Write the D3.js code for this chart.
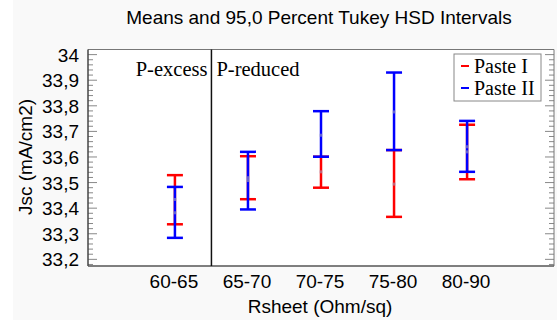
<!DOCTYPE html>
<html>
<head>
<meta charset="utf-8">
<script src="https://cdn.jsdelivr.net/npm/d3@7"></script>
<style>
  body { margin: 0; background: #fff; }
  svg { display: block; }
</style>
</head>
<body>
<svg id="chart" width="557" height="320"></svg>
<script>
let categories = ["60-65", "65-70", "70-75", "75-80", "80-90"];
let paste1Low  = [33.337, 33.435, 33.480, 33.366, 33.513];
let paste1High = [33.529, 33.603, 33.601, 33.627, 33.726];
let paste1Mean = [33.434, 33.519, 33.542, 33.494, 33.620];
let paste2Low  = [33.284, 33.395, 33.601, 33.627, 33.542];
let paste2High = [33.483, 33.620, 33.779, 33.930, 33.741];
let paste2Mean = [33.382, 33.508, 33.685, 33.776, 33.640];
let yTicks = [33.2, 33.3, 33.4, 33.5, 33.6, 33.7, 33.8, 33.9, 34];

let svg = d3.select("#chart"),
    plotL = 88, plotR = 554, plotT = 49.5, plotB = 266;

svg.append("rect").attr("x", 13).attr("y", 0).attr("width", 544).attr("height", 320).attr("fill", "#f9f9f9");
svg.append("rect").attr("x", plotL).attr("y", plotT).attr("width", plotR - plotL).attr("height", plotB - plotT).attr("fill", "#fff");

let x = d3.scalePoint().domain(categories).range([plotL, plotR]).padding(1.19);
let y = d3.scaleLinear().domain([33.174, 34.02]).range([plotB, plotT]);

// minor ticks every 0.02 on both sides
let minor = d3.range(33.18, 34.01, 0.02).map(d => +d.toFixed(2));
let isMajor = d => Math.abs(d * 10 - Math.round(d * 10)) < 1e-6;
svg.append("g").selectAll("line").data(minor).enter().append("line")
    .attr("x1", plotL).attr("x2", d => plotL + (isMajor(d) ? 9 : 5))
    .attr("y1", d => y(d)).attr("y2", d => y(d))
    .attr("stroke", "#888").attr("stroke-width", 1);
svg.append("g").selectAll("line").data(minor).enter().append("line")
    .attr("x1", plotR).attr("x2", d => plotR - (isMajor(d) ? 9 : 5))
    .attr("y1", d => y(d)).attr("y2", d => y(d))
    .attr("stroke", "#888").attr("stroke-width", 1);

// frame
svg.append("line").attr("x1", plotL).attr("x2", plotR).attr("y1", plotT).attr("y2", plotT).attr("stroke", "#777");
svg.append("line").attr("x1", plotR).attr("x2", plotR).attr("y1", plotT).attr("y2", plotB).attr("stroke", "#777");
svg.append("line").attr("x1", plotL).attr("x2", plotL).attr("y1", plotT).attr("y2", plotB).attr("stroke", "#444").attr("stroke-width", 1.5);
svg.append("line").attr("x1", plotL).attr("x2", plotR).attr("y1", plotB).attr("y2", plotB).attr("stroke", "#555").attr("stroke-width", 1.5);

// tick labels
svg.append("g").selectAll("text").data(yTicks).enter().append("text")
    .attr("x", 79).attr("y", d => y(d) + 7)
    .attr("text-anchor", "end")
    .attr("font-family", "Liberation Sans, Arial, sans-serif").attr("font-size", 19)
    .text(d => d3.format(".1f")(d).replace(".", ",").replace(",0", ""));
svg.append("g").selectAll("text").data(categories).enter().append("text")
    .attr("x", d => x(d) - 1).attr("y", 288)
    .attr("text-anchor", "middle")
    .attr("font-family", "Liberation Sans, Arial, sans-serif").attr("font-size", 19)
    .text(d => d);

// divider between groups
let divX = (x(categories[0]) + x(categories[1])) / 2;
svg.append("line").attr("x1", divX).attr("x2", divX).attr("y1", plotT).attr("y2", plotB)
    .attr("stroke", "#111").attr("stroke-width", 1.5);
svg.append("text").attr("x", divX - 4).attr("y", 76).attr("text-anchor", "end")
    .attr("font-family", "Liberation Serif, Times New Roman, serif").attr("font-size", 20.5).text("P-excess");
svg.append("text").attr("x", divX + 5).attr("y", 76)
    .attr("font-family", "Liberation Serif, Times New Roman, serif").attr("font-size", 20.5).text("P-reduced");

// error bars
function drawSeries(lo, hi, color) {
  let g = svg.append("g");
  categories.forEach(function(c, i) {
    let cx = x(c);
    g.append("line").attr("x1", cx).attr("x2", cx).attr("y1", y(lo[i])).attr("y2", y(hi[i]))
        .attr("stroke", color).attr("stroke-width", 2.5);
    [lo[i], hi[i]].forEach(function(v) {
      g.append("line").attr("x1", cx - 8).attr("x2", cx + 8).attr("y1", y(v)).attr("y2", y(v))
          .attr("stroke", color).attr("stroke-width", 2.5);
    });
  });
}
drawSeries(paste1Low, paste1High, "#ff0000");
drawSeries(paste2Low, paste2High, "#0000ff");

// mean markers
let means = paste1Mean.map((m, i) => [categories[i], m]).concat(paste2Mean.map((m, i) => [categories[i], m]));
svg.append("g").selectAll("rect").data(means).enter().append("rect")
    .attr("x", d => x(d[0]) - 1.5).attr("y", d => y(d[1]) - 1.5)
    .attr("width", 3).attr("height", 3)
    .attr("fill", "#a0a0c0").attr("opacity", 0.6);

// legend
let lg = svg.append("g");
lg.append("rect").attr("x", 454).attr("y", 54).attr("width", 87).attr("height", 47)
    .attr("fill", "#fff").attr("stroke", "#888");
[["Paste I", "#ff0000", 66], ["Paste II", "#0000ff", 88]].forEach(function(d) {
  lg.append("line").attr("x1", 461).attr("x2", 469).attr("y1", d[2]).attr("y2", d[2])
      .attr("stroke", d[1]).attr("stroke-width", 2);
  lg.append("text").attr("x", 474).attr("y", d[2] + 7)
      .attr("font-family", "Liberation Serif, Times New Roman, serif").attr("font-size", 20).text(d[0]);
});

// titles
svg.append("text").attr("x", 319).attr("y", 24).attr("text-anchor", "middle")
    .attr("font-family", "Liberation Sans, Arial, sans-serif").attr("font-size", 19)
    .text("Means and 95,0 Percent Tukey HSD Intervals");
svg.append("text").attr("x", 320).attr("y", 313).attr("text-anchor", "middle")
    .attr("font-family", "Liberation Sans, Arial, sans-serif").attr("font-size", 19)
    .text("Rsheet (Ohm/sq)");
svg.append("text").attr("transform", "translate(32,157) rotate(-90)").attr("text-anchor", "middle")
    .attr("font-family", "Liberation Sans, Arial, sans-serif").attr("font-size", 19)
    .text("Jsc (mA/cm2)");
</script>
</body>
</html>
